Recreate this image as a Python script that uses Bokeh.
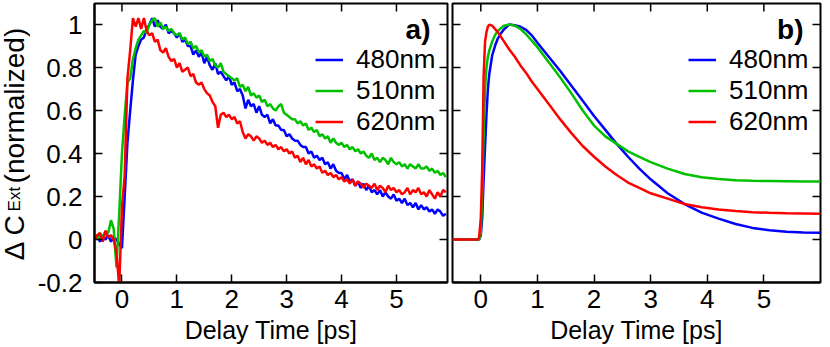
import math
from bokeh.plotting import figure
from bokeh.models import Range1d, FixedTicker, Legend, LegendItem, Label
from bokeh.layouts import row
from bokeh.embed import file_html
from bokeh.resources import INLINE

FONT = "Liberation Sans"
BLUE, GREEN, RED = "#0000ff", "#00c000", "#ff0000"

# ---------------- data ----------------
x_ticks = [0, 1, 2, 3, 4, 5]
y_ticks = [-0.2, 0, 0.2, 0.4, 0.6, 0.8, 1.0]
y_tick_labels = ["-0.2", "0", "0.2", "0.4", "0.6", "0.8", "1"]
series_names = ["480nm", "510nm", "620nm"]

# panel a) measured traces
t_a = [-0.5, -0.45, -0.4, -0.35, -0.3, -0.25, -0.2, -0.15, -0.1, -0.05,
       0.0, 0.05, 0.1, 0.15, 0.2, 0.25, 0.3, 0.35, 0.4, 0.45,
       0.5, 0.55, 0.6, 0.65, 0.7, 0.75, 0.8, 0.85, 0.9, 0.95,
       1.0, 1.05, 1.1, 1.15, 1.2, 1.25, 1.3, 1.35, 1.4, 1.45,
       1.5, 1.55, 1.6, 1.65, 1.7, 1.75, 1.8, 1.85, 1.9, 1.95,
       2.0, 2.05, 2.1, 2.15, 2.2, 2.25, 2.3, 2.35, 2.4, 2.45,
       2.5, 2.55, 2.6, 2.65, 2.7, 2.75, 2.8, 2.85, 2.9, 2.95,
       3.0, 3.05, 3.1, 3.15, 3.2, 3.25, 3.3, 3.35, 3.4, 3.45,
       3.5, 3.55, 3.6, 3.65, 3.7, 3.75, 3.8, 3.85, 3.9, 3.95,
       4.0, 4.05, 4.1, 4.15, 4.2, 4.25, 4.3, 4.35, 4.4, 4.45,
       4.5, 4.55, 4.6, 4.65, 4.7, 4.75, 4.8, 4.85, 4.9, 4.95,
       5.0, 5.05, 5.1, 5.15, 5.2, 5.25, 5.3, 5.35, 5.4, 5.45,
       5.5, 5.55, 5.6, 5.65, 5.7, 5.75, 5.8, 5.85, 5.9]

a_480 = [0.01, 0.02, -0.01, 0.01, 0.00, 0.02, -0.01, 0.01, 0.00, -0.02,
         -0.04, 0.20, 0.45, 0.60, 0.74, 0.86, 0.90, 0.93, 0.94, 0.98,
         1.00, 1.03, 0.99, 1.02, 0.99, 0.98, 1.00, 0.96, 0.97, 0.96,
         0.94, 0.96, 0.92, 0.93, 0.90, 0.90, 0.86, 0.88, 0.85, 0.87,
         0.82, 0.85, 0.81, 0.79, 0.82, 0.77, 0.78, 0.76, 0.74, 0.76,
         0.72, 0.73, 0.69, 0.70, 0.67, 0.61, 0.65, 0.62, 0.63, 0.59,
         0.62, 0.58, 0.57, 0.58, 0.54, 0.56, 0.53, 0.53, 0.51, 0.51,
         0.48, 0.49, 0.47, 0.46, 0.46, 0.44, 0.43, 0.43, 0.40, 0.41,
         0.38, 0.39, 0.37, 0.38, 0.35, 0.36, 0.33, 0.35, 0.32, 0.31,
         0.31, 0.28, 0.30, 0.27, 0.28, 0.25, 0.27, 0.24, 0.26, 0.23,
         0.25, 0.22, 0.23, 0.21, 0.23, 0.20, 0.22, 0.20, 0.19, 0.21,
         0.18, 0.19, 0.17, 0.19, 0.16, 0.17, 0.15, 0.17, 0.14, 0.16,
         0.14, 0.15, 0.13, 0.14, 0.12, 0.14, 0.13, 0.11, 0.12]

a_510 = [0.02, 0.00, 0.03, 0.01, 0.04, 0.03, 0.09, 0.05, -0.13, 0.12,
         0.40, 0.58, 0.73, 0.75, 0.84, 0.89, 0.93, 0.95, 0.97, 0.96,
         1.00, 1.02, 1.03, 0.99, 1.01, 0.98, 0.99, 0.97, 0.98, 0.96,
         0.95, 0.96, 0.93, 0.94, 0.91, 0.92, 0.89, 0.90, 0.87, 0.88,
         0.85, 0.86, 0.83, 0.84, 0.81, 0.80, 0.82, 0.78, 0.77, 0.76,
         0.75, 0.74, 0.75, 0.71, 0.72, 0.69, 0.71, 0.67, 0.68, 0.66,
         0.67, 0.64, 0.65, 0.62, 0.63, 0.61, 0.60, 0.62, 0.63, 0.59,
         0.58, 0.57, 0.56, 0.56, 0.54, 0.55, 0.53, 0.54, 0.51, 0.52,
         0.50, 0.51, 0.48, 0.49, 0.47, 0.48, 0.45, 0.47, 0.45, 0.44,
         0.45, 0.43, 0.44, 0.42, 0.43, 0.41, 0.42, 0.40, 0.41, 0.39,
         0.38, 0.40, 0.37, 0.38, 0.36, 0.38, 0.37, 0.35, 0.38, 0.36,
         0.35, 0.36, 0.34, 0.35, 0.33, 0.35, 0.34, 0.33, 0.35, 0.33,
         0.33, 0.34, 0.32, 0.33, 0.31, 0.32, 0.30, 0.31, 0.29]

a_620 = [0.00, 0.02, 0.03, -0.01, 0.04, 0.01, 0.02, 0.00, -0.06, -0.22,
         0.15, 0.30, 0.75, 0.88, 1.03, 0.99, 1.03, 0.98, 1.03, 0.97,
         0.95, 0.96, 0.92, 0.93, 0.88, 0.87, 0.89, 0.85, 0.83, 0.84,
         0.80, 0.82, 0.78, 0.79, 0.80, 0.76, 0.77, 0.73, 0.72, 0.73,
         0.70, 0.68, 0.67, 0.64, 0.62, 0.52, 0.58, 0.59, 0.57, 0.58,
         0.56, 0.57, 0.54, 0.55, 0.50, 0.47, 0.49, 0.48, 0.46, 0.48,
         0.47, 0.45, 0.46, 0.44, 0.45, 0.43, 0.44, 0.42, 0.43, 0.41,
         0.42, 0.40, 0.41, 0.38, 0.39, 0.36, 0.38, 0.35, 0.37, 0.34,
         0.35, 0.33, 0.34, 0.31, 0.32, 0.30, 0.31, 0.29, 0.30, 0.28,
         0.29, 0.27, 0.28, 0.26, 0.28, 0.25, 0.27, 0.26, 0.24, 0.26,
         0.25, 0.24, 0.26, 0.23, 0.25, 0.24, 0.22, 0.25, 0.23, 0.24,
         0.22, 0.23, 0.21, 0.22, 0.24, 0.21, 0.23, 0.22, 0.24, 0.21,
         0.22, 0.20, 0.23, 0.21, 0.19, 0.22, 0.20, 0.23, 0.22]

# panel b) model curves
t_b = [-0.5, -0.1, -0.05, -0.03, 0.0, 0.025, 0.05, 0.075, 0.1, 0.125,
       0.15, 0.2, 0.25, 0.3, 0.35, 0.4, 0.5, 0.6, 0.7, 0.8,
       0.9, 1.0, 1.2, 1.4, 1.6, 1.8, 2.0, 2.2, 2.4, 2.6,
       2.8, 3.0, 3.3, 3.6, 3.9, 4.2, 4.5, 4.8, 5.1, 5.4,
       5.7, 6.0]

b_480 = [0, 0, 0, 0, 0.02, 0.10, 0.28, 0.43, 0.58, 0.70,
         0.77, 0.855, 0.90, 0.935, 0.957, 0.975, 1.0, 0.997, 0.99, 0.975,
         0.95, 0.915, 0.85, 0.785, 0.715, 0.645, 0.575, 0.51, 0.445, 0.385,
         0.33, 0.28, 0.215, 0.165, 0.125, 0.097, 0.072, 0.054, 0.043, 0.036,
         0.033, 0.031]

b_510 = [0, 0, 0, 0, 0.03, 0.20, 0.50, 0.70, 0.80, 0.85,
         0.88, 0.92, 0.95, 0.97, 0.982, 0.993, 1.0, 0.995, 0.98, 0.955,
         0.925, 0.895, 0.825, 0.755, 0.68, 0.60, 0.53, 0.48, 0.445, 0.41,
         0.385, 0.36, 0.33, 0.305, 0.29, 0.281, 0.276, 0.273, 0.272, 0.271,
         0.27, 0.27]

b_620 = [0, 0, 0, 0.01, 0.10, 0.33, 0.76, 0.92, 0.965, 0.99,
         1.0, 0.995, 0.98, 0.965, 0.945, 0.925, 0.885, 0.85, 0.81, 0.775,
         0.735, 0.70, 0.63, 0.56, 0.495, 0.435, 0.385, 0.34, 0.30, 0.265,
         0.24, 0.215, 0.19, 0.165, 0.15, 0.14, 0.133, 0.127, 0.124, 0.122,
         0.121, 0.12]

# y-axis title pieces: (text, centre value on the y scale, font size)
ylabel_parts = [("\u0394 C", 0.0116, "28px"), ("Ext", 0.188, "17px"), ("(normalized)", 0.623, "28px")]

Y_RANGE = (-0.2, 1.098)
H = 347
B_TOP, B_BOTTOM = 3, 65


def style_axis(ax, ticks, standoff):
    ax.ticker = FixedTicker(ticks=ticks)
    ax.major_tick_in = 8
    ax.major_tick_out = 0
    ax.minor_tick_in = 0
    ax.minor_tick_out = 0
    ax.major_tick_line_width = 1.5
    ax.major_tick_line_color = "black"
    ax.axis_line_width = 2
    ax.axis_line_color = "black"
    ax.major_label_text_font = FONT
    ax.major_label_text_font_size = "26px"
    ax.major_label_text_color = "black"
    ax.major_label_standoff = standoff


def mirror_ticks(p, xr, side_left_ticks):
    # inward tick marks on the top / right (and left for panel b) frame edges;
    # dash markers centred on the frame edge, the outer half is clipped away
    n_x, n_y = len(x_ticks), len(y_ticks)
    p.scatter(x=x_ticks, y=[Y_RANGE[1]] * n_x, marker="dash", size=16, angle=math.pi / 2,
              line_color="black", line_width=1.5)
    p.scatter(x=[xr[1]] * n_y, y=y_ticks, marker="dash", size=16,
              line_color="black", line_width=1.5)
    if side_left_ticks:
        p.scatter(x=[xr[0]] * n_y, y=y_ticks, marker="dash", size=16,
                  line_color="black", line_width=1.5)


def make_panel(width, xr, b_left, b_right, show_yaxis, xs, ys_list, legend_x, tag, tag_x):
    p = figure(width=width, height=H, x_range=Range1d(*xr), y_range=Range1d(*Y_RANGE),
               output_backend="svg", toolbar_location=None,
               y_axis_location="left" if show_yaxis else None,
               min_border_left=b_left, min_border_right=b_right,
               min_border_top=B_TOP, min_border_bottom=B_BOTTOM)
    p.xgrid.visible = False
    p.ygrid.visible = False
    p.outline_line_color = "black"
    p.outline_line_width = 2
    p.outline_line_alpha = 1
    p.background_fill_color = "white"
    p.border_fill_color = "white"

    xa = p.xaxis[0]
    style_axis(xa, x_ticks, standoff=7)
    xa.axis_label = "Delay Time [ps]"
    xa.axis_label_text_font = FONT
    xa.axis_label_text_font_size = "25px"
    xa.axis_label_text_font_style = "normal"
    xa.axis_label_text_color = "black"
    xa.axis_label_standoff = 5

    if show_yaxis:
        ya = p.yaxis[0]
        style_axis(ya, y_ticks, standoff=12)
        ya.major_label_overrides = {t: s for t, s in zip(y_ticks, y_tick_labels)}

    mirror_ticks(p, xr, not show_yaxis)

    renderers = []
    for ys, col in zip(ys_list, [BLUE, GREEN, RED]):
        renderers.append(p.line(xs, ys, line_color=col, line_width=2.5))

    legend = Legend(items=[LegendItem(label=n, renderers=[r]) for n, r in zip(series_names, renderers)],
                    location=(legend_x, 145), orientation="vertical",
                    label_text_font=FONT, label_text_font_size="26px", label_text_color="black",
                    glyph_width=28, glyph_height=29, label_height=29,
                    label_standoff=13, spacing=-4, padding=0, margin=0,
                    border_line_color=None, background_fill_alpha=0)
    p.add_layout(legend)

    p.add_layout(Label(x=tag_x, y=0.977, text=tag, text_align="right",
                       text_baseline="alphabetic", text_font=FONT, text_color="black",
                       text_font_size="28px", text_font_style="bold"))
    return p


# narrow strip that carries the rotated y-axis title of panel a)
W0 = 30
p0 = figure(width=W0, height=H, x_range=Range1d(0, W0), y_range=Range1d(*Y_RANGE),
            output_backend="svg", toolbar_location=None,
            x_axis_location=None, y_axis_location=None,
            min_border_left=0, min_border_right=0, min_border_top=B_TOP, min_border_bottom=B_BOTTOM)
p0.xgrid.visible = False
p0.ygrid.visible = False
p0.outline_line_color = None
p0.background_fill_color = "white"
p0.border_fill_color = "white"
for (txt, yv, size), base_x in zip(ylabel_parts, [13.5, 14.0, 13.5]):
    p0.add_layout(Label(x=base_x, y=yv, text=txt, angle=math.pi / 2,
                        text_align="center", text_baseline="alphabetic",
                        text_font=FONT, text_font_size=size, text_color="black"))

p1 = make_panel(420, (-0.5, 5.93), 64, 3, True, t_a, [a_480, a_510, a_620], 221, "a)", 5.62)
p2 = make_panel(372, (-0.5, 6.0), 2, 2, False, t_b, [b_480, b_510, b_620], 236, "b)", 5.70)

layout = row(p0, p1, p2)
open("out.html", "w").write(file_html(layout, INLINE))
